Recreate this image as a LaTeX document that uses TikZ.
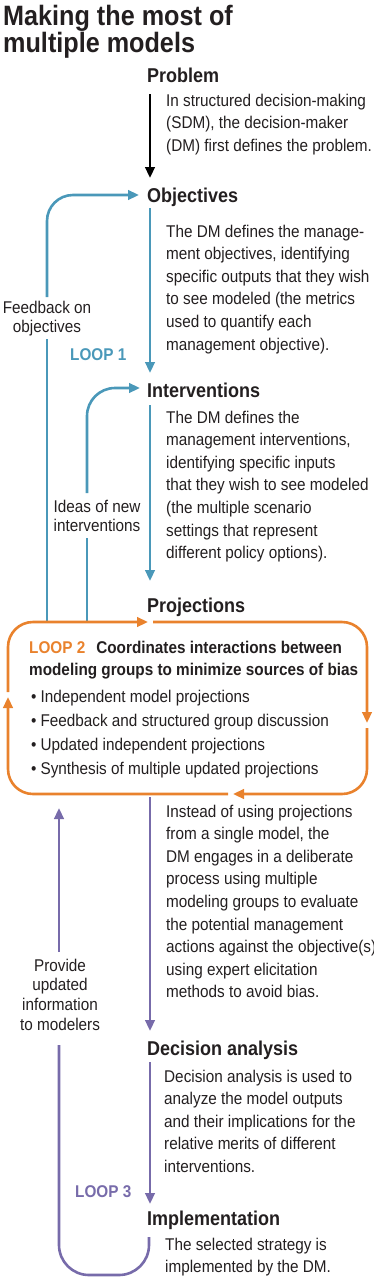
\documentclass[tikz,border=0pt]{standalone}
\usepackage{fontspec}
\setmainfont{Liberation Sans}[FakeStretch=0.9]
\usetikzlibrary{arrows.meta}
\definecolor{lteal}{HTML}{4A98B9}
\definecolor{lor}{HTML}{E9822D}
\definecolor{lpur}{HTML}{776BAA}
\definecolor{ink}{HTML}{231F20}
\newcommand\mypar[2]{\parbox[t]{#1}{\raggedright\leavevmode #2}}
\newcommand\mycpar[2]{\parbox[t]{#1}{\centering\leavevmode #2}}
\newcommand\myTitle{\fontsize{28}{27}\selectfont\bfseries}
\newcommand\myHead{\fontsize{20}{22}\selectfont\bfseries}
\newcommand\myBody{\fontsize{17}{22.6}\selectfont}
\newcommand\myLbl{\fontsize{17}{19.8}\selectfont}
\newcommand\myLoop{\fontsize{17}{20}\selectfont\bfseries}
\newcommand\myBoxHead{\fontsize{17}{22}\selectfont\bfseries}
\begin{document}
\begin{tikzpicture}[x=1pt,y=-1pt,
  txt/.style={inner sep=0pt, anchor=base west, text=ink},
  lbl/.style={inner sep=0pt, anchor=base, text=ink},
  ln/.style={line width=2.6pt},
  arr/.style={line width=2.6pt, -{Triangle[length=11pt,width=9.5pt]}}]
\useasboundingbox (0,0) rectangle (374,1280);

% title
\node[txt] (title) at (3,25) {\mypar{340pt}{\myTitle Making the most of\\multiple models}};

% headings
\node[txt] (hprob) at (147,82) {\myHead Problem};
\node[txt] (hobj) at (147,202) {\myHead Objectives};
\node[txt] (hint) at (147,397) {\myHead Interventions};
\node[txt] (hproj) at (147,612) {\myHead Projections};
\node[txt] (hdec) at (147,1055) {\myHead Decision analysis};
\node[txt] (himp) at (147,1225) {\myHead Implementation};

% body texts
\node[txt] (bprob) at (166,106) {\mypar{260pt}{\myBody In structured decision-making\\(SDM), the decision-maker\\(DM) first defines the problem.}};
\node[txt] (bobj) at (166,237) {\mypar{260pt}{\myBody The DM defines the manage-\\ment objectives, identifying\\specific outputs that they wish\\to see modeled (the metrics\\used to quantify each\\management objective).}};
\node[txt] (bint) at (166,423) {\mypar{260pt}{\myBody The DM defines the\\management interventions,\\identifying specific inputs\\that they wish to see modeled\\(the multiple scenario\\settings that represent\\different policy options).}};
\node[txt] (bproj) at (166,817) {\mypar{260pt}{\myBody Instead of using projections\\from a single model, the\\DM engages in a deliberate\\process using multiple\\modeling groups to evaluate\\the potential management\\actions against the objective(s)\\using expert elicitation\\methods to avoid bias.}};
\node[txt] (bdec) at (164,1082) {\mypar{260pt}{\myBody Decision analysis is used to\\analyze the model outputs\\and their implications for the\\relative merits of different\\interventions.}};
\node[txt] (bimp) at (165,1250) {\mypar{260pt}{\myBody The selected strategy is\\implemented by the DM.}};

% side labels
\node[lbl] (lfb) at (47,313) {\mycpar{110pt}{\myLbl Feedback on\\objectives}};
\node[lbl] (lid) at (97,512) {\mycpar{110pt}{\myLbl Ideas of new\\interventions}};
\node[lbl] (lpr) at (60,971) {\mycpar{110pt}{\myLbl Provide\\updated\\information\\to modelers}};
\node[txt, text=lteal] (loop1) at (70,360) {\myLoop LOOP 1};
\node[txt, text=lpur] (loop3) at (75,1197) {\myLoop LOOP 3};

% box contents
\node[txt] (boxhead) at (29,653) {\mypar{360pt}{\myBoxHead{\color{lor}LOOP 2}\hspace{11pt}Coordinates interactions between\\modeling groups to minimize sources of bias}};
\node[txt] (bullets) at (31,702) {\mypar{360pt}{\fontsize{17}{24.3}\selectfont
•\hspace{4pt}Independent model projections\\
•\hspace{4pt}Feedback and structured group discussion\\
•\hspace{4pt}Updated independent projections\\
•\hspace{4pt}Synthesis of multiple updated projections}};

% main axis
\coordinate (a1) at (150,94);  \coordinate (a2) at (150,178);
\coordinate (o1) at (150,208); \coordinate (o2) at (150,373);
\coordinate (i1) at (150,405); \coordinate (i2) at (150,581);
\coordinate (p1) at (150,797); \coordinate (p2) at (150,1031);
\coordinate (d1) at (150,1062); \coordinate (d2) at (150,1204);
\draw[arr, black] (a1) -- (a2);
\draw[arr, lteal] (o1) -- (o2);
\draw[arr, lteal] (i1) -- (i2);
\draw[arr, lpur] (p1) -- (p2);
\draw[arr, lpur] (d1) -- (d2);

% loop 1 outer
\coordinate (L1a) at (47,622); \coordinate (L1b) at (47,339);
\coordinate (L1c) at (47,297); \coordinate (L1d) at (139,195);
\draw[ln, lteal] (L1a) -- (L1b);
\draw[arr, lteal, rounded corners=26pt] (L1c) |- (L1d);
% loop 1 inner
\coordinate (L1e) at (87,622); \coordinate (L1f) at (87,538);
\coordinate (L1g) at (87,493); \coordinate (L1h) at (140,388);
\draw[ln, lteal] (L1e) -- (L1f);
\draw[arr, lteal, rounded corners=28pt] (L1g) |- (L1h);

% loop 2 box
\coordinate (bt1) at (153,622); \coordinate (btr) at (367,622); \coordinate (br1) at (367,723);
\coordinate (br2) at (367,728); \coordinate (bbr) at (367,794); \coordinate (bb1) at (233,794);
\coordinate (bb2) at (228,794); \coordinate (bbl) at (8,794);   \coordinate (bl1) at (8,697);
\coordinate (bl2) at (8,692);   \coordinate (btl) at (8,622);   \coordinate (bt2) at (148,622);
\draw[arr, lor, rounded corners=25pt] (bt1) -- (btr) -- (br1);
\draw[arr, lor, rounded corners=25pt] (br2) -- (bbr) -- (bb1);
\draw[arr, lor, rounded corners=25pt] (bb2) -- (bbl) -- (bl1);
\draw[arr, lor, rounded corners=25pt] (bl2) -- (btl) -- (bt2);

% loop 3
\coordinate (L3a) at (59,952); \coordinate (L3b) at (59,808);
\draw[arr, lpur] (L3a) -- (L3b);
\coordinate (L3c) at (59,1045); \coordinate (L3d) at (59,1275);
\coordinate (L3e) at (149,1275); \coordinate (L3f) at (149,1237);
\draw[ln, lpur, rounded corners=30pt] (L3c) -- (L3d) -- (L3e) -- (L3f);
\end{tikzpicture}
\end{document}
